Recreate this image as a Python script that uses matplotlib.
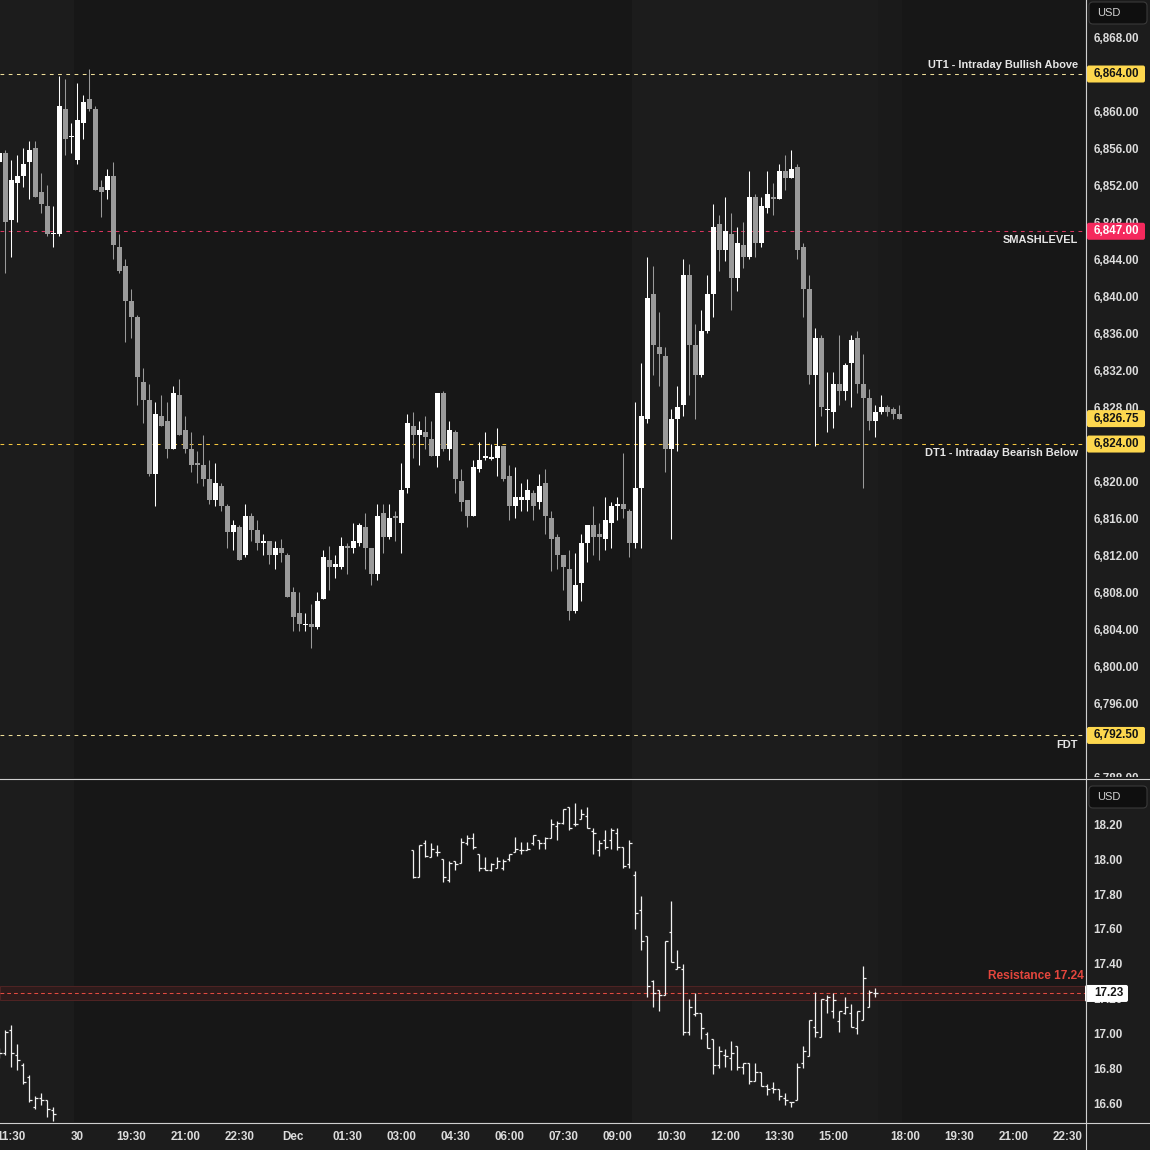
import numpy as np
import matplotlib
matplotlib.use("Agg")
import matplotlib.pyplot as plt
import matplotlib.transforms as mtransforms
from matplotlib.patches import FancyBboxPatch, Rectangle
from matplotlib.lines import Line2D
from matplotlib.ticker import FuncFormatter

plt.rcParams['font.family'] = ['Liberation Sans', 'DejaVu Sans']
plt.rcParams['font.weight'] = 'bold'

# ---------------- data ----------------
# ES 10-minute candles, first one is bar index -1 (bar 12 = Nov 30 18:00)
es_first_bar = -1
es_open = [
    6854.5, 6855.5, 6848.25, 6852.25, 6853.0, 6854.5, 6856.0, 6851.25, 6849.75, 6846.75,
    6846.75, 6860.25, 6857.25, 6854.75, 6858.75, 6861.25, 6860.25, 6851.75, 6851.5, 6853.0,
    6845.25, 6843.25, 6839.5, 6837.75, 6830.75, 6828.75, 6820.75, 6827.0, 6826.5, 6823.5,
    6829.25, 6825.5, 6823.5, 6822.0, 6821.75, 6820.25, 6818.0, 6819.5, 6817.25, 6814.5,
    6815.0, 6812.0, 6816.25, 6814.75, 6813.25, 6813.5, 6812.0, 6812.75, 6812.0, 6808.0,
    6805.75, 6804.5, 6804.5, 6804.25, 6807.25, 6811.5, 6810.75, 6810.75, 6813.0, 6812.75,
    6813.25, 6815.0, 6812.75, 6810.0, 6816.5, 6814.0, 6816.25, 6815.5, 6819.25, 6826.0,
    6825.0, 6825.25, 6824.5, 6822.75, 6829.5, 6823.5, 6825.25, 6820.0, 6818.0, 6816.25,
    6821.25, 6822.5, 6822.5, 6822.5, 6823.75, 6820.5, 6817.25, 6818.0, 6818.0, 6818.75,
    6817.75, 6819.75, 6816.0, 6814.0, 6812.0, 6810.5, 6806.0, 6809.0, 6813.25, 6815.25,
    6814.25, 6813.75, 6815.5, 6817.25, 6817.5, 6816.75, 6813.25, 6819.25, 6826.75, 6840.25,
    6834.5, 6833.5, 6823.5, 6826.75, 6828.25, 6842.25, 6834.75, 6831.5, 6836.25, 6840.25,
    6847.75, 6845.0, 6846.75, 6842.0, 6845.5, 6844.25, 6850.75, 6845.75, 6849.5, 6850.75,
    6850.5, 6853.5, 6852.75, 6854.0, 6845.25, 6840.75, 6831.5, 6835.5, 6827.75, 6827.5,
    6830.5, 6829.75, 6832.75, 6835.5, 6830.5, 6829.0, 6826.5, 6827.5, 6828.0, 6827.75, 6827.25,
]
es_high = [
    6855.5, 6855.75, 6854.75, 6855.25, 6856.0, 6856.75, 6856.75, 6853.25, 6852.0, 6849.75,
    6863.75, 6863.5, 6858.75, 6863.0, 6861.75, 6864.5, 6860.5, 6852.5, 6853.75, 6854.5,
    6846.75, 6844.0, 6840.75, 6838.0, 6832.25, 6830.5, 6828.5, 6829.25, 6828.5, 6830.25,
    6831.0, 6827.0, 6825.25, 6823.25, 6825.0, 6822.25, 6822.0, 6819.75, 6817.5, 6815.75,
    6815.25, 6817.5, 6816.5, 6815.75, 6814.25, 6813.5, 6813.5, 6813.75, 6812.25, 6808.5,
    6808.0, 6805.75, 6806.75, 6808.0, 6812.5, 6813.0, 6812.0, 6814.0, 6813.25, 6815.5,
    6815.5, 6816.5, 6812.75, 6817.5, 6817.5, 6817.5, 6816.75, 6822.0, 6827.25, 6827.5,
    6826.5, 6827.0, 6826.5, 6829.5, 6829.75, 6826.5, 6825.5, 6821.25, 6818.0, 6822.25,
    6824.25, 6825.25, 6824.0, 6825.75, 6823.75, 6821.75, 6821.5, 6819.75, 6820.25, 6819.0,
    6820.75, 6821.25, 6816.75, 6814.25, 6812.0, 6812.5, 6812.25, 6814.25, 6815.25, 6817.25,
    6815.5, 6818.25, 6817.75, 6818.25, 6823.0, 6817.0, 6828.5, 6832.75, 6844.25, 6843.25,
    6838.25, 6834.5, 6827.75, 6830.25, 6844.0, 6843.5, 6837.0, 6838.5, 6842.25, 6850.0,
    6848.75, 6850.75, 6849.0, 6847.5, 6848.0, 6853.5, 6851.0, 6850.75, 6853.5, 6852.25,
    6854.25, 6855.25, 6855.75, 6854.25, 6845.75, 6842.25, 6836.5, 6835.75, 6831.75, 6831.75,
    6835.75, 6832.75, 6835.75, 6836.25, 6833.75, 6830.0, 6828.25, 6829.25, 6828.25, 6828.0, 6828.25,
]
es_low = [
    6854.5, 6842.5, 6844.25, 6848.0, 6851.75, 6850.5, 6850.75, 6849.0, 6846.5, 6845.25,
    6846.5, 6855.25, 6855.5, 6854.25, 6857.0, 6860.0, 6851.5, 6848.5, 6850.5, 6844.0,
    6842.5, 6835.0, 6835.5, 6828.25, 6826.25, 6820.5, 6817.25, 6826.0, 6822.5, 6823.5,
    6825.0, 6823.0, 6821.0, 6819.75, 6819.5, 6817.5, 6817.25, 6816.75, 6812.75, 6812.5,
    6811.5, 6811.75, 6813.5, 6812.5, 6812.0, 6811.0, 6810.5, 6811.25, 6807.5, 6803.75,
    6803.75, 6803.75, 6802.0, 6804.0, 6807.25, 6808.25, 6809.5, 6810.5, 6810.0, 6812.25,
    6813.0, 6810.5, 6808.75, 6809.25, 6812.25, 6813.75, 6813.5, 6812.25, 6818.75, 6822.5,
    6821.75, 6823.5, 6822.75, 6821.5, 6823.25, 6822.25, 6818.75, 6816.75, 6815.0, 6816.25,
    6821.0, 6822.25, 6822.25, 6820.5, 6820.0, 6815.75, 6816.0, 6816.75, 6816.75, 6815.75,
    6817.0, 6814.25, 6810.25, 6810.5, 6808.25, 6805.0, 6805.75, 6807.0, 6811.25, 6812.0,
    6811.5, 6812.5, 6812.75, 6815.75, 6816.0, 6811.75, 6812.75, 6812.75, 6826.25, 6831.5,
    6830.25, 6821.0, 6813.75, 6823.25, 6827.0, 6829.25, 6826.75, 6831.25, 6836.0, 6837.75,
    6842.75, 6843.75, 6838.5, 6840.5, 6843.0, 6844.0, 6844.25, 6845.25, 6849.0, 6848.75,
    6850.5, 6851.5, 6852.75, 6844.0, 6837.75, 6830.5, 6823.75, 6827.0, 6825.25, 6825.75,
    6828.25, 6828.75, 6828.0, 6829.5, 6819.25, 6825.5, 6824.75, 6827.25, 6827.0, 6826.75, 6826.75,
]
es_close = [
    6855.5, 6848.0, 6852.5, 6853.0, 6854.25, 6855.75, 6850.75, 6850.0, 6846.75, 6846.75,
    6860.5, 6857.0, 6857.25, 6859.0, 6861.0, 6860.25, 6851.5, 6851.25, 6853.0, 6845.5,
    6842.75, 6839.5, 6837.75, 6831.25, 6828.75, 6820.75, 6827.25, 6826.0, 6823.5, 6829.5,
    6825.0, 6823.5, 6821.75, 6821.75, 6820.25, 6818.0, 6819.75, 6817.25, 6814.5, 6815.25,
    6811.5, 6816.25, 6814.75, 6813.25, 6813.5, 6812.0, 6812.75, 6812.25, 6807.5, 6805.25,
    6804.5, 6804.5, 6804.25, 6807.0, 6811.75, 6810.75, 6811.0, 6813.0, 6812.75, 6813.5,
    6815.25, 6812.75, 6810.0, 6816.25, 6814.0, 6816.0, 6816.0, 6819.0, 6826.25, 6825.0,
    6825.5, 6824.75, 6822.75, 6829.5, 6823.5, 6825.5, 6820.25, 6817.75, 6816.25, 6821.5,
    6822.25, 6822.75, 6822.5, 6823.75, 6820.25, 6817.25, 6818.25, 6818.25, 6819.0, 6817.25,
    6819.5, 6816.25, 6813.75, 6812.0, 6810.75, 6806.0, 6808.75, 6813.25, 6815.25, 6814.0,
    6814.0, 6815.75, 6817.25, 6817.5, 6817.0, 6813.25, 6819.25, 6827.0, 6839.75, 6834.75,
    6833.75, 6823.5, 6826.75, 6828.0, 6842.25, 6834.75, 6831.5, 6836.25, 6840.25, 6847.5,
    6845.0, 6847.0, 6842.0, 6845.75, 6844.25, 6850.75, 6845.75, 6849.75, 6851.0, 6850.5,
    6853.5, 6852.75, 6853.75, 6845.0, 6840.75, 6831.5, 6835.5, 6828.0, 6827.75, 6830.5,
    6829.75, 6832.5, 6835.25, 6830.5, 6829.0, 6826.5, 6827.5, 6828.0, 6827.5, 6827.25, 6826.75,
]

# VIX bars: Friday tail and Monday session (gap in between)
vix_fri_first_bar = -1
vix_fri_open = [16.90, 16.89, 17.02, 16.88, 16.82, 16.75, 16.58, 16.63, 16.62, 16.56]
vix_fri_high = [16.92, 17.02, 17.05, 16.94, 16.83, 16.76, 16.64, 16.66, 16.62, 16.58]
vix_fri_low = [16.86, 16.88, 16.81, 16.79, 16.71, 16.61, 16.57, 16.59, 16.52, 16.50]
vix_fri_close = [16.89, 17.01, 16.89, 16.85, 16.72, 16.62, 16.63, 16.62, 16.57, 16.54]

vix_mon_first_bar = 68
vix_mon_open = [
    18.05, 17.90, 18.09, 18.01, 18.04, 18.00, 17.88, 17.99, 17.98, 18.09,
    18.12, 18.03, 17.95, 17.94, 17.95, 17.95, 18.00, 18.04, 18.05, 18.05,
    18.09, 18.11, 18.09, 18.12, 18.19, 18.21, 18.30, 18.20, 18.23, 18.25,
    18.16, 18.05, 18.11, 18.11, 18.15, 18.07, 17.97, 17.91, 17.71, 17.56,
    17.30, 17.25, 17.22, 17.58, 17.37, 17.37, 17.01, 17.11, 17.12, 17.00,
    16.97, 16.82, 16.88, 16.86, 16.93, 16.81, 16.83, 16.73, 16.78, 16.70,
    16.69, 16.68, 16.63, 16.61, 16.62, 16.83, 16.87, 17.04, 16.98, 17.19,
    17.13, 17.07, 17.12, 17.12, 17.03, 17.08, 17.15, 17.23,
]
vix_mon_high = [
    18.05, 18.08, 18.11, 18.09, 18.08, 18.00, 17.99, 17.99, 18.12, 18.14,
    18.15, 18.03, 18.01, 17.98, 18.01, 18.00, 18.03, 18.13, 18.10, 18.10,
    18.14, 18.11, 18.13, 18.23, 18.22, 18.29, 18.30, 18.32, 18.29, 18.30,
    18.18, 18.11, 18.17, 18.18, 18.18, 18.07, 18.11, 17.93, 17.79, 17.56,
    17.31, 17.25, 17.53, 17.76, 17.48, 17.40, 17.20, 17.23, 17.12, 17.01,
    16.97, 16.93, 16.91, 16.96, 16.93, 16.83, 16.83, 16.83, 16.78, 16.71,
    16.72, 16.68, 16.66, 16.61, 16.83, 16.93, 17.08, 17.24, 17.20, 17.22,
    17.23, 17.13, 17.21, 17.17, 17.13, 17.39, 17.25, 17.26,
]
vix_mon_low = [
    17.89, 17.90, 18.01, 18.01, 18.02, 17.87, 17.87, 17.94, 17.98, 18.08,
    18.06, 17.93, 17.94, 17.93, 17.95, 17.94, 17.99, 18.04, 18.03, 18.05,
    18.08, 18.06, 18.06, 18.12, 18.11, 18.20, 18.17, 18.19, 18.23, 18.18,
    18.03, 18.02, 18.06, 18.06, 18.05, 17.95, 17.95, 17.60, 17.48, 17.21,
    17.15, 17.13, 17.22, 17.41, 17.37, 16.99, 16.99, 17.10, 16.97, 16.92,
    16.77, 16.80, 16.81, 16.79, 16.79, 16.77, 16.71, 16.73, 16.70, 16.65,
    16.66, 16.62, 16.59, 16.58, 16.62, 16.80, 16.87, 16.98, 16.98, 17.12,
    17.09, 17.01, 17.11, 17.04, 17.00, 17.08, 17.15, 17.21,
]
vix_mon_close = [
    17.90, 18.08, 18.02, 18.06, 18.04, 17.90, 17.98, 17.97, 18.10, 18.12,
    18.07, 17.95, 17.94, 17.97, 17.99, 17.99, 18.03, 18.06, 18.05, 18.06,
    18.14, 18.09, 18.12, 18.20, 18.21, 18.29, 18.18, 18.20, 18.26, 18.18,
    18.15, 18.09, 18.07, 18.17, 18.07, 17.96, 18.09, 17.69, 17.53, 17.27,
    17.23, 17.22, 17.53, 17.41, 17.38, 17.01, 17.15, 17.12, 17.03, 16.92,
    16.82, 16.90, 16.87, 16.89, 16.81, 16.83, 16.73, 16.78, 16.70, 16.68,
    16.68, 16.64, 16.62, 16.61, 16.81, 16.90, 17.08, 17.01, 17.20, 17.21,
    17.19, 17.13, 17.15, 17.04, 17.13, 17.32, 17.24, 17.23,
]

# key levels
es_levels = [6864.0, 6847.0, 6824.0, 6792.5]
es_level_names = ['UT1 - Intraday Bullish Above', 'SMASHLEVEL', 'DT1 - Intraday Bearish Below', 'FDT']
es_level_above = [True, False, False, False]
es_last = 6826.75
vix_res_zone = (17.19, 17.27)
vix_res_label = 'Resistance 17.24'
vix_last = 17.23

# price scale ticks (labels hidden behind the tags are left out)
es_ticks = [6788, 6796, 6800, 6804, 6808, 6812, 6816, 6820, 6828, 6832, 6836,
            6840, 6844, 6848, 6852, 6856, 6860, 6868]
vix_ticks = [16.6, 16.8, 17.0, 17.2, 17.4, 17.6, 17.8, 18.0, 18.2]

# time axis (bar index -> label)
time_tick_bars = [1, 12, 21, 30, 39, 48, 57, 66, 75, 84, 93, 102, 111, 120, 129, 138, 150, 159, 168, 177]
time_tick_labels = ['11:30', '30', '19:30', '21:00', '22:30', 'Dec', '01:30', '03:00', '04:30', '06:00',
                    '07:30', '09:00', '10:30', '12:00', '13:30', '15:00', '18:00', '19:30', '21:00', '22:30']

# session shading, bar boundaries
rth_spans = [(-5, 11.5), (104.5, 145.5)]
post_spans = [(145.5, 149.5)]

# ---------------- style ----------------
BG = '#171717'
RTH_BG = '#1c1c1c'
POST_BG = '#1a1a1a'
FIG_BG = '#1c1c1c'
TXT = '#dcdcdc'
UP = '#ffffff'
DOWN = '#9a9a9a'
YELLOW = '#fdd74e'
PINK = '#f5295d'
SEP = '#cfcfcf'
level_colors = ['#efdf98', '#d8355f', '#f4c63f', '#efdf98']

W = H = 1150
DPI = 100
PLOT_R = 1085
TOP_B = 778
BOT_T, BOT_B = 780, 1122

fig = plt.figure(figsize=(W / DPI, H / DPI), dpi=DPI, facecolor=FIG_BG)
pix = mtransforms.Affine2D().scale(1 / W, -1 / H).translate(0, 1) + fig.transFigure


def px_box(x0, y0, x1, y1):
    return [x0 / W, 1 - y1 / H, (x1 - x0) / W, (y1 - y0) / H]


ax1 = fig.add_axes(px_box(0, 0, PLOT_R, TOP_B))
ax2 = fig.add_axes(px_box(0, BOT_T, PLOT_R, BOT_B))

x_lo = -5.33 / 6
x_hi = (PLOT_R - 5.33) / 6
for ax in (ax1, ax2):
    ax.set_facecolor(BG)
    for s in ax.spines.values():
        s.set_visible(False)
    ax.set_xlim(x_lo, x_hi)
    for a, b in rth_spans:
        ax.axvspan(a, b, color=RTH_BG, lw=0, zorder=0)
    for a, b in post_spans:
        ax.axvspan(a, b, color=POST_BG, lw=0, zorder=0)

ax1.set_ylim(6787.9, 6872.0)
ax2.set_ylim(16.493, 18.454)

# ---- candles ----
x = es_first_bar + np.arange(len(es_open))
o = np.array(es_open)
h = np.array(es_high)
l = np.array(es_low)
c = np.array(es_close)
cols = np.where(c >= o, UP, DOWN)
ppu1 = TOP_B / (ax1.get_ylim()[1] - ax1.get_ylim()[0])
min_body = 1.3 / ppu1
body = np.abs(c - o)
bottom = np.where(body < min_body, (o + c) / 2 - min_body / 2, np.minimum(o, c))
ax1.vlines(x, l, h, colors=cols, lw=0.75, zorder=3)
ax1.bar(x, np.maximum(body, min_body), bottom=bottom, width=0.78, color=cols, lw=0, zorder=4)


# ---- VIX OHLC bars ----
def ohlc(ax, first, op, hi, lo, cl, tick=0.42):
    xs = first + np.arange(len(op))
    ax.vlines(xs, lo, hi, color='#f2f2f2', lw=0.9, zorder=3)
    ax.hlines(op, xs - tick, xs, color='#f2f2f2', lw=0.9, zorder=3)
    ax.hlines(cl, xs, xs + tick, color='#f2f2f2', lw=0.9, zorder=3)


ohlc(ax2, vix_fri_first_bar, vix_fri_open, vix_fri_high, vix_fri_low, vix_fri_close)
ohlc(ax2, vix_mon_first_bar, vix_mon_open, vix_mon_high, vix_mon_low, vix_mon_close)

# ---- levels ----
blend1 = mtransforms.blended_transform_factory(ax1.transAxes, ax1.transData)
for lvl, name, above, col in zip(es_levels, es_level_names, es_level_above, level_colors):
    ax1.axhline(lvl, color=col, lw=0.75, dashes=(3.6, 4.3), zorder=2)
    ax1.annotate(name, xy=(1078 / PLOT_R, lvl), xycoords=blend1,
                 xytext=(0, 3.0 if above else -3.0), textcoords='offset points',
                 ha='right', va='bottom' if above else 'top', fontsize=7.9, color='#e6e6e6')

blend2 = mtransforms.blended_transform_factory(ax2.transAxes, ax2.transData)
ax2.axhspan(vix_res_zone[0], vix_res_zone[1], fc='#2e1b1b', ec='#4e2323', lw=0.75, zorder=1)
ax2.axhline(sum(vix_res_zone) / 2, color='#e24a40', lw=0.75, dashes=(3.6, 2.9), zorder=2)
ax2.annotate(vix_res_label, xy=(1084 / PLOT_R, vix_res_zone[1]), xycoords=blend2,
             xytext=(0, 3.2), textcoords='offset points', ha='right', va='bottom',
             fontsize=8.6, color='#e4463d')

# ---- axes ticks ----
ax1.yaxis.tick_right()
ax1.set_yticks(es_ticks)
ax1.yaxis.set_major_formatter(FuncFormatter(lambda v, p: f'{v:,.2f}'))
ax1.tick_params(axis='y', length=0, pad=6.3, labelsize=8.4, labelcolor=TXT)
ax1.tick_params(axis='x', bottom=False, labelbottom=False)

ax2.yaxis.tick_right()
ax2.set_yticks(vix_ticks)
ax2.yaxis.set_major_formatter(FuncFormatter(lambda v, p: f'{v:.2f}'))
ax2.tick_params(axis='y', length=0, pad=6.3, labelsize=8.4, labelcolor=TXT)
ax2.set_xticks(time_tick_bars, time_tick_labels)
ax2.tick_params(axis='x', length=0, pad=6.5, labelsize=8.4, labelcolor=TXT)

# cover overflow of the top price scale into the lower pane
ax2.add_patch(Rectangle((1.0, 0), (W - PLOT_R) / PLOT_R, 1 + 3 / (BOT_B - BOT_T),
                        transform=ax2.transAxes, fc=FIG_BG, lw=0, clip_on=False, zorder=0.5))

# ---- price tags on the scale ----
axc1 = fig.add_axes(px_box(PLOT_R, 0, W, TOP_B))
axc2 = fig.add_axes(px_box(PLOT_R, BOT_T, W, BOT_B))
for axc, src in ((axc1, ax1), (axc2, ax2)):
    axc.set_xlim(0, W - PLOT_R)
    axc.set_ylim(src.get_ylim())
    axc.axis('off')


def price_tag(axc, pane_h, value, text, fc, tc, width, x0=2):
    lo, hi = axc.get_ylim()
    ppu = pane_h / (hi - lo)
    hh = 8.5 / ppu
    axc.add_patch(FancyBboxPatch((x0, value - hh), width, 2 * hh,
                                 boxstyle='round,pad=0,rounding_size=2',
                                 mutation_aspect=1 / ppu, fc=fc, ec='none', clip_on=False, zorder=5))
    axc.text(9, value, text, ha='left', va='center', fontsize=8.4, color=tc, zorder=6, clip_on=False)


price_tag(axc1, TOP_B, es_levels[0], f'{es_levels[0]:,.2f}', YELLOW, '#141414', 58)
price_tag(axc1, TOP_B, es_levels[1], f'{es_levels[1]:,.2f}', PINK, '#ffffff', 58)
price_tag(axc1, TOP_B, es_levels[2], f'{es_levels[2]:,.2f}', YELLOW, '#141414', 58)
price_tag(axc1, TOP_B, es_last, f'{es_last:,.2f}', YELLOW, '#141414', 58)
price_tag(axc1, TOP_B, es_levels[3], f'{es_levels[3]:,.2f}', YELLOW, '#141414', 58)
price_tag(axc2, BOT_B - BOT_T, vix_last, f'{vix_last:.2f}', '#ffffff', '#141414', 43, x0=0)

# ---- currency boxes ----
for y0 in (2, BOT_T + 6):
    fig.add_artist(FancyBboxPatch((1089, y0), 58, 22, boxstyle='round,pad=0,rounding_size=4',
                                  transform=pix, fc='#0f0f0f', ec='#3a3a3a', lw=0.8))
    fig.text(1097 / W, 1 - (y0 + 11) / H, 'USD', ha='left', va='center', fontsize=8.0,
             fontweight='normal', color='#d2d2d2')

# ---- pane separators ----
for xs, ys in (((PLOT_R + 0.5, PLOT_R + 0.5), (0, H)),
               ((0, W), (TOP_B + 0.5, TOP_B + 0.5)),
               ((0, W), (BOT_B + 0.5, BOT_B + 0.5))):
    fig.add_artist(Line2D(xs, ys, transform=pix, color=SEP, lw=0.8))

fig.savefig('out.png', dpi=DPI, facecolor=FIG_BG)
